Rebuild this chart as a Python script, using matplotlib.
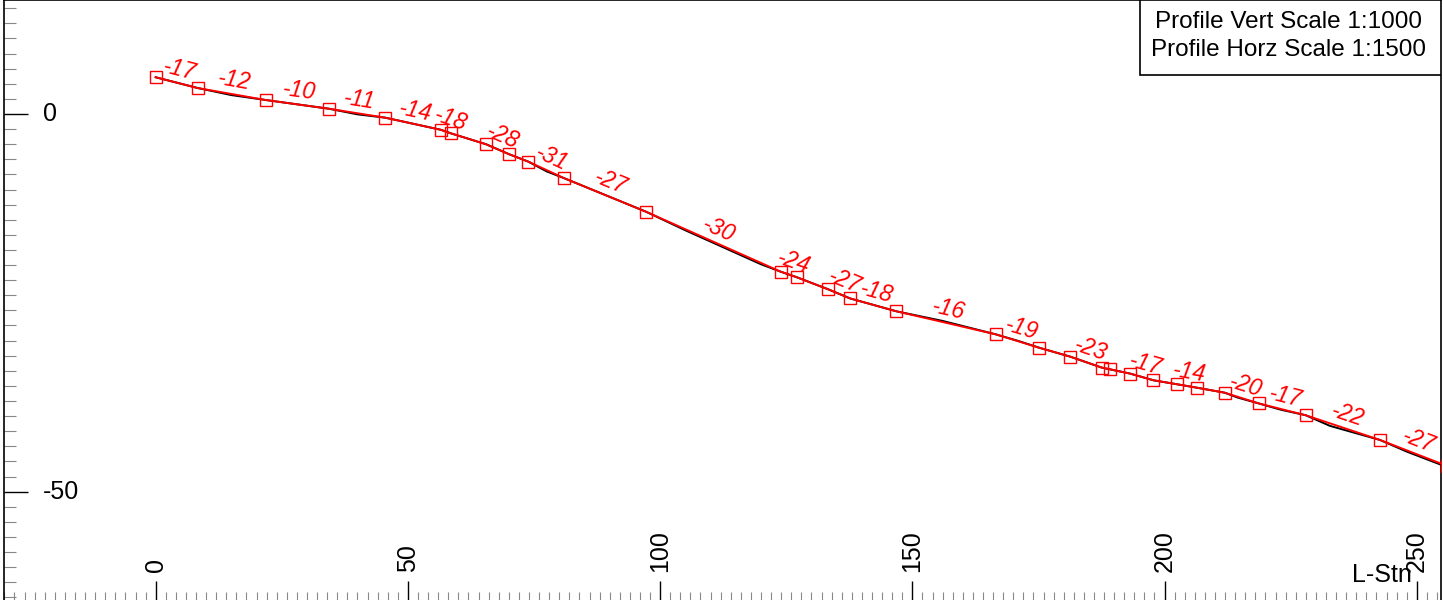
import numpy as np
import matplotlib
matplotlib.use("Agg")
import matplotlib.pyplot as plt
from matplotlib.ticker import MultipleLocator
from matplotlib.patches import Rectangle
import matplotlib.transforms as mtrans

plt.rcParams['font.family'] = ['Liberation Sans', 'DejaVu Sans']

# design profile (PVI stations / elevations)
station = [0, 8.3, 21.8, 34.3, 45.5, 56.5, 58.5, 65.5, 70.1, 73.9, 81.0, 97.2,
           123.9, 127.1, 133.3, 137.7, 146.8, 166.5, 175.1, 181.3, 187.6, 189.2,
           193.2, 197.8, 202.5, 206.4, 211.9, 218.7, 228.0, 242.7, 256.0]
elev = [4.86, 3.44, 1.85, 0.70, -0.49, -2.09, -2.56, -4.01, -5.34, -6.32, -8.51,
        -12.94, -20.88, -21.62, -23.21, -24.43, -26.12, -29.17, -30.94, -32.13,
        -33.59, -33.80, -34.38, -35.26, -35.79, -36.24, -36.90, -38.33, -39.89,
        -43.16, -46.6]
# grade label per segment (None = not labelled)
grades = ["-17", "-12", "-10", "-11", "-14", "-18", None, "-28", None, "-31",
          "-27", "-30", "-24", None, "-27", "-18", "-16", "-19", None, "-23",
          None, None, "-17", None, "-14", None, "-20", "-17", "-22", "-27"]

# existing ground line
ground_sta = [0, 8.3, 15.0, 21.8, 34.3, 40.0, 45.5, 56.5, 58.5, 65.5, 70.1, 73.9,
              77.5, 81.0, 97.2, 105.0, 113.0, 120.0, 123.9, 127.1, 133.3, 137.7,
              146.8, 156.0, 166.5, 171.0, 175.1, 181.3, 187.6, 193.2, 197.8, 202.5,
              206.4, 211.9, 214.5, 218.7, 223.0, 228.0, 232.8, 242.7, 248.0, 256.0]
ground_elev = [4.86, 3.44, 2.5, 1.85, 0.70, -0.05, -0.49, -2.09, -2.56, -4.01,
               -5.34, -6.32, -7.6, -8.51, -12.94, -15.4, -17.8, -19.9, -20.88,
               -21.62, -23.21, -24.43, -26.12, -27.4, -29.17, -30.05, -30.94,
               -32.13, -33.59, -34.38, -35.26, -35.79, -36.24, -36.90, -37.55,
               -38.33, -39.15, -39.89, -41.3, -43.16, -44.7, -46.75]

xticks = [0, 50, 100, 150, 200, 250]
yticks = [0, -50]

fig = plt.figure(figsize=(14.43, 6), dpi=100)
ax = fig.add_axes([4 / 1443, 0, 1437 / 1443, 1])
ax.set_xlim(-30.07, 254.8)
ax.set_ylim(-64.35, 15.09)

ax.plot(ground_sta, ground_elev, color='black', lw=1.4, zorder=2)
ax.plot(station, elev, color='red', lw=1.4, marker='s', ms=8, mfc='none',
        mec='red', mew=1.0, zorder=3)

# ticks inside, labels drawn by hand
ax.xaxis.set_major_locator(MultipleLocator(50))
ax.xaxis.set_minor_locator(MultipleLocator(2))
ax.yaxis.set_major_locator(MultipleLocator(50))
ax.yaxis.set_minor_locator(MultipleLocator(2))
ax.tick_params(axis='x', which='major', direction='in', length=13.7, width=1,
               color='black', labelbottom=False)
ax.tick_params(axis='x', which='minor', direction='in', length=5.8, width=0.8,
               color='#888888')
ax.tick_params(axis='y', which='major', direction='in', length=17.3, width=1,
               color='black', labelleft=False)
ax.tick_params(axis='y', which='minor', direction='in', length=8.6, width=0.8,
               color='#888888')
ax.spines['bottom'].set_visible(False)
for s in ['left', 'top', 'right']:
    ax.spines[s].set_linewidth(1.2)

bx = mtrans.blended_transform_factory(ax.transData, ax.transAxes)
for v in xticks:
    ax.text(v, 28 / 600, str(v), rotation=90, ha='center', va='bottom',
            fontsize=18, transform=bx)
by = mtrans.blended_transform_factory(ax.transAxes, ax.transData)
for v in yticks:
    ax.text(39 / 1437, v, str(v), ha='left', va='center', fontsize=18,
            transform=by)

ax.text(237.1, 18 / 600, "L-Stn", ha='left', va='baseline', fontsize=18,
        transform=bx)

# scale box
ax.add_patch(Rectangle((0.7905, 0.875), 0.2095, 0.125, transform=ax.transAxes,
                       fc='white', ec='black', lw=1.2, zorder=5))
ax.text(0.894, 1 - 22 / 600, "Profile Vert Scale 1:1000", ha='center',
        va='center', fontsize=17.5, transform=ax.transAxes, zorder=6)
ax.text(0.894, 1 - 50 / 600, "Profile Horz Scale 1:1500", ha='center',
        va='center', fontsize=17.5, transform=ax.transAxes, zorder=6)

# grade labels along each segment
off = 9.6  # points, perpendicular above the segment
for i, g in enumerate(grades):
    if g is None:
        continue
    p0 = ax.transData.transform((station[i], elev[i]))
    p1 = ax.transData.transform((station[i + 1], elev[i + 1]))
    ang = np.arctan2(p1[1] - p0[1], p1[0] - p0[0])
    mx = (station[i] + station[i + 1]) / 2
    my = (elev[i] + elev[i + 1]) / 2
    ax.annotate(g, (mx, my), xytext=(-np.sin(ang) * off, np.cos(ang) * off),
                textcoords='offset points', rotation=np.degrees(ang),
                rotation_mode='anchor', ha='center', va='center',
                color='red', fontsize=16.5, fontstyle='italic', zorder=4)

fig.savefig("out.png", dpi=100)
